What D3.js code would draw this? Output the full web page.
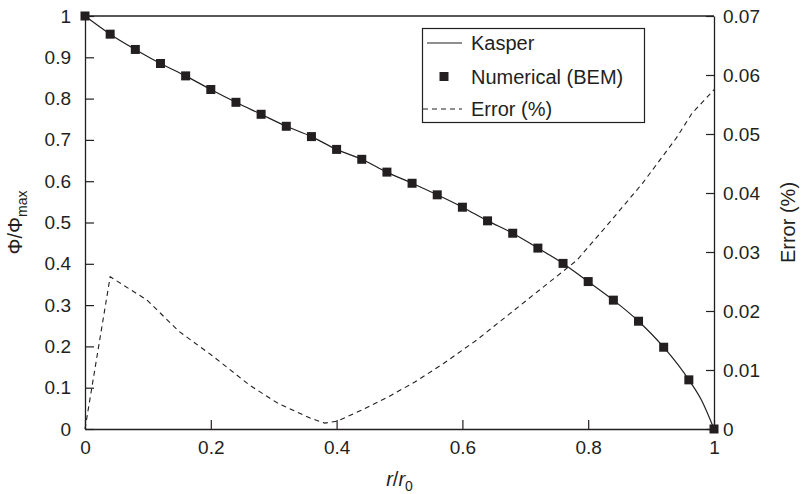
<!DOCTYPE html>
<html>
<head>
<meta charset="utf-8">
<script src="https://cdn.jsdelivr.net/npm/d3@7"></script>
<style>
  html, body { margin: 0; padding: 0; background: #fff; }
  svg { display: block; }
  text { font-family: "Liberation Sans", Arial, Helvetica, sans-serif; fill: #231f20; }
</style>
</head>
<body>
<svg id="chart" width="802" height="494"></svg>
<script>
// ---- Data ----
const bemX = [0, 0.04, 0.08, 0.12, 0.16, 0.20, 0.24, 0.28, 0.32, 0.36, 0.40, 0.44, 0.48,
              0.52, 0.56, 0.60, 0.64, 0.68, 0.72, 0.76, 0.80, 0.84, 0.88, 0.92, 0.96, 1.0];
const bemY = [1.0, 0.956, 0.919, 0.885, 0.855, 0.822, 0.791, 0.762, 0.733, 0.708, 0.677, 0.653, 0.622,
              0.595, 0.567, 0.537, 0.504, 0.474, 0.438, 0.401, 0.357, 0.312, 0.261, 0.198, 0.119, 0.0];
const kasperX = [0, 0.04, 0.08, 0.12, 0.16, 0.20, 0.24, 0.28, 0.32, 0.36, 0.40, 0.44, 0.48,
                 0.52, 0.56, 0.60, 0.64, 0.68, 0.72, 0.76, 0.80, 0.84, 0.88, 0.92, 0.96, 0.98, 1.0];
const kasperY = [1.0, 0.956, 0.919, 0.885, 0.855, 0.822, 0.791, 0.762, 0.733, 0.708, 0.677, 0.653, 0.622,
                 0.595, 0.567, 0.537, 0.504, 0.474, 0.438, 0.401, 0.357, 0.312, 0.261, 0.198, 0.119, 0.07, 0.0];
const errX = [0, 0.04, 0.098, 0.15, 0.204, 0.262, 0.306, 0.359, 0.381, 0.40, 0.44, 0.483, 0.525,
              0.57, 0.623, 0.676, 0.729, 0.782, 0.833, 0.886, 0.94, 0.965, 1.0];
const errY = [0, 0.0258, 0.0219, 0.0165, 0.0123, 0.0074, 0.0044, 0.0018, 0.0010, 0.0013, 0.0032, 0.0055, 0.0080,
              0.0111, 0.0151, 0.0196, 0.0241, 0.0286, 0.0349, 0.0416, 0.0493, 0.0535, 0.0575];
const xTicks = [0, 0.2, 0.4, 0.6, 0.8, 1];
const yTicks = [0, 0.1, 0.2, 0.3, 0.4, 0.5, 0.6, 0.7, 0.8, 0.9, 1];
const y2Ticks = [0, 0.01, 0.02, 0.03, 0.04, 0.05, 0.06, 0.07];
const legendLabels = ["Kasper", "Numerical (BEM)", "Error (%)"];

// ---- Layout ----
const L = 85, R = 714, T = 16, B = 429;
const ink = "#231f20";
const fs = 19;

const svg = d3.select("#chart");
const x = d3.scaleLinear().domain([0, 1]).range([L, R]);
const y = d3.scaleLinear().domain([0, 1]).range([B, T]);
const y2 = d3.scaleLinear().domain([0, 0.07]).range([B, T]);

const fmt = d => (d === 0 ? "0" : d === 1 ? "1" : String(+d.toFixed(2)));

function styleAxis(g) {
  g.selectAll("path.domain").attr("stroke", ink).attr("stroke-width", 1.3);
  g.selectAll(".tick line").attr("stroke", ink).attr("stroke-width", 1.2);
  g.selectAll(".tick text").attr("font-size", fs).attr("fill", ink)
    .style("font-family", '"Liberation Sans", Arial, sans-serif');
}

// top frame line
svg.append("line").attr("x1", L).attr("x2", R).attr("y1", T).attr("y2", T)
  .attr("stroke", ink).attr("stroke-width", 1.3);

const gx = svg.append("g").attr("transform", `translate(0,${B})`)
  .call(d3.axisBottom(x).tickValues(xTicks).tickFormat(fmt).tickSizeInner(-9).tickSizeOuter(0).tickPadding(12));
styleAxis(gx);

const gy = svg.append("g").attr("transform", `translate(${L},0)`)
  .call(d3.axisLeft(y).tickValues(yTicks).tickFormat(fmt).tickSizeInner(-9).tickSizeOuter(0).tickPadding(14));
styleAxis(gy);

const gy2 = svg.append("g").attr("transform", `translate(${R},0)`)
  .call(d3.axisRight(y2).tickValues(y2Ticks).tickFormat(fmt).tickSizeInner(-8).tickSizeOuter(0).tickPadding(9));
styleAxis(gy2);

// ---- Series ----
const kasper = kasperX.map((v, i) => [v, kasperY[i]]);
const bem = bemX.map((v, i) => [v, bemY[i]]);
const err = errX.map((v, i) => [v, errY[i]]);

svg.append("path").datum(kasper)
  .attr("fill", "none").attr("stroke", ink).attr("stroke-width", 1.2)
  .attr("d", d3.line().x(d => x(d[0])).y(d => y(d[1])).curve(d3.curveMonotoneX));

svg.append("path").datum(err)
  .attr("fill", "none").attr("stroke", ink).attr("stroke-width", 1.1)
  .attr("stroke-dasharray", "5,4")
  .attr("d", d3.line().x(d => x(d[0])).y(d => y2(d[1])).curve(d3.curveLinear));

const ms = 9;
svg.append("g").selectAll("rect").data(bem).join("rect")
  .attr("x", d => x(d[0]) - ms / 2).attr("y", d => y(d[1]) - ms / 2)
  .attr("width", ms).attr("height", ms).attr("fill", ink);

// ---- Legend ----
const lg = svg.append("g");
lg.append("rect").attr("x", 422.5).attr("y", 28.5).attr("width", 222).attr("height", 94)
  .attr("fill", "#fff").attr("stroke", ink).attr("stroke-width", 1.2);
const rowsY = [43, 76.5, 109];
lg.append("line").attr("x1", 427).attr("x2", 462).attr("y1", rowsY[0]).attr("y2", rowsY[0])
  .attr("stroke", ink).attr("stroke-width", 1.2);
lg.append("rect").attr("x", 444 - 4.5).attr("y", rowsY[1] - 4.5).attr("width", 9).attr("height", 9).attr("fill", ink);
lg.append("line").attr("x1", 423).attr("x2", 462).attr("y1", rowsY[2]).attr("y2", rowsY[2])
  .attr("stroke", ink).attr("stroke-width", 1.1).attr("stroke-dasharray", "5,4");
lg.selectAll("text.lab").data(legendLabels).join("text").attr("class", "lab")
  .attr("x", 471).attr("y", (d, i) => rowsY[i]).attr("dy", "0.35em")
  .attr("font-size", 20).text(d => d);

// ---- Axis titles ----
const xt = svg.append("text").attr("x", (L + R) / 2).attr("y", 486)
  .attr("text-anchor", "middle").attr("font-size", 20);
xt.append("tspan").attr("font-style", "italic").text("r");
xt.append("tspan").text("/");
xt.append("tspan").attr("font-style", "italic").text("r");
xt.append("tspan").attr("font-size", 14).attr("dy", 5).text("0");

const yt = svg.append("text").attr("transform", `translate(22,${(T + B) / 2}) rotate(-90)`)
  .attr("text-anchor", "middle").attr("font-size", 20);
yt.append("tspan").text("Φ/Φ");
yt.append("tspan").attr("font-size", 14).attr("dy", 5).text("max");

svg.append("text").attr("transform", `translate(795,${(T + B) / 2}) rotate(-90)`)
  .attr("text-anchor", "middle").attr("font-size", 20).text("Error (%)");
</script>
</body>
</html>
